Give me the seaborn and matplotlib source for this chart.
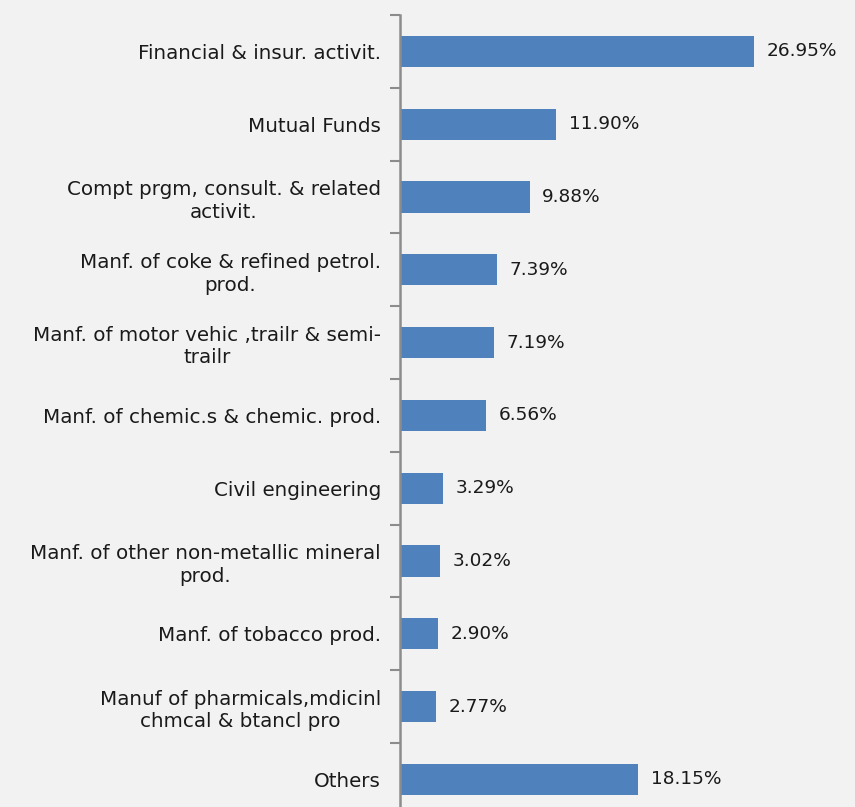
import matplotlib
matplotlib.use("Agg")
import matplotlib.pyplot as plt
import seaborn as sns
import pandas as pd
from matplotlib.ticker import FixedLocator

categories = [
    "Financial & insur. activit.",
    "Mutual Funds",
    "Compt prgm, consult. & related\nactivit.",
    "Manf. of coke & refined petrol.\nprod.",
    "Manf. of motor vehic ,trailr & semi-\ntrailr",
    "Manf. of chemic.s & chemic. prod.",
    "Civil engineering",
    "Manf. of other non-metallic mineral\nprod.",
    "Manf. of tobacco prod.",
    "Manuf of pharmicals,mdicinl\nchmcal & btancl pro",
    "Others",
]
shares = [26.95, 11.90, 9.88, 7.39, 7.19, 6.56, 3.29, 3.02, 2.90, 2.77, 18.15]
value_labels = ["26.95%", "11.90%", "9.88%", "7.39%", "7.19%", "6.56%",
                "3.29%", "3.02%", "2.90%", "2.77%", "18.15%"]

df = pd.DataFrame({"sector": categories, "share": shares})

sns.set_style("white")
plt.rcParams["font.family"] = ["DejaVu Sans"]

bg = "#f2f2f2"
fig = plt.figure(figsize=(8.55, 8.07), dpi=100, facecolor=bg)
W, H = 855, 807
top_px, step = 15, 72.8
bottom_px = top_px + 11 * step
ax = fig.add_axes([400 / W, 1 - bottom_px / H, 455 / W, (bottom_px - top_px) / H])
ax.set_facecolor(bg)

sns.barplot(data=df, x="share", y="sector", color="#4f81bd", width=0.43,
            saturation=1, ax=ax, orient="h", linewidth=0, edgecolor="none")

ax.set_xlim(0, 455 / 13.13)
ax.set_ylim(10.5, -0.5)
ax.set_xlabel("")
ax.set_ylabel("")
ax.set_xticks([])

for s in ["top", "right", "bottom"]:
    ax.spines[s].set_visible(False)
ax.spines["left"].set_color("#8c8c8c")
ax.spines["left"].set_linewidth(1.8)

# category separators as outward minor ticks
ax.yaxis.set_minor_locator(FixedLocator([i - 0.5 for i in range(12)]))
ax.tick_params(axis="y", which="major", left=True, length=0, pad=13.8,
               labelsize=14.3, labelcolor="#1a1a1a")
ax.tick_params(axis="y", which="minor", left=True, length=7, width=1.5,
               color="#8c8c8c", direction="out")
for lbl in ax.get_yticklabels():
    lbl.set_multialignment("center")
    lbl.set_linespacing(1.25)

for i, (v, t) in enumerate(zip(shares, value_labels)):
    ax.text(v + 0.95, i, t, va="center", ha="left", fontsize=13.3, color="#1a1a1a")

fig.savefig("out.png", dpi=100, facecolor=bg)
